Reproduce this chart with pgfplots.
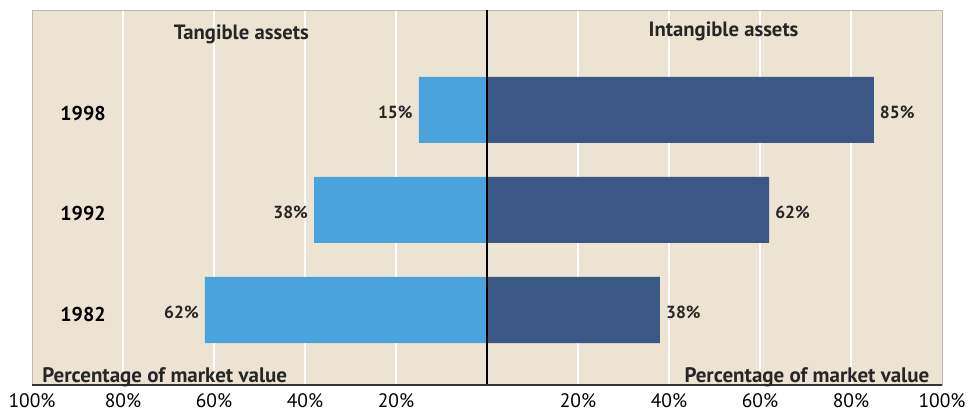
\documentclass[border=0pt]{standalone}
\usepackage{pgfplots}
\pgfplotsset{compat=1.18}
\usepackage{fontspec}
\setmainfont{PT Sans}

\definecolor{panel}{RGB}{237,227,210}
\definecolor{tangible}{RGB}{74,163,220}
\definecolor{intangible}{RGB}{58,87,133}
\definecolor{frame}{RGB}{190,185,178}

\begin{document}
\begin{tikzpicture}
\begin{axis}[
  scale only axis,
  width=910bp, height=375bp,
  xmin=-100, xmax=100, ymin=-0.75, ymax=3,
  axis background/.style={fill=panel},
  axis line style={frame, line width=0.8bp},
  xbar, bar width=66bp,
  xtick={-100,-80,-60,-40,-20,20,40,60,80,100},
  xticklabels={100\%,80\%,60\%,40\%,20\%,20\%,40\%,60\%,80\%,100\%},
  minor xtick={-80,-60,-40,-20,20,40,60,80},
  xminorgrids,
  minor grid style={white, line width=1.8bp},
  major tick length=0pt, minor tick length=0pt,
  ytick={0,1,2}, yticklabels={1982,1992,1998},
  yticklabel style={anchor=center, xshift=51bp, yshift=-4bp,
    font=\bfseries\fontsize{20bp}{24bp}\selectfont},
  xticklabel style={font=\fontsize{19.5bp}{22bp}\selectfont, yshift=-5bp},
  /pgf/number format/assume math mode=true,
  clip=false,
]
% tangible share, drawn to the left of zero
\addplot[fill=tangible, draw=none, bar shift=0pt,
  point meta=explicit symbolic,
  nodes near coords={\pgfplotspointmeta\%},
  nodes near coords align={left},
  every node near coord/.append style={font=\bfseries\fontsize{17.5bp}{20bp}\selectfont,
    text=black!85, inner sep=6bp, yshift=-2bp}]
  coordinates {(-62,0) [62] (-38,1) [38] (-15,2) [15]};
% intangible share, drawn to the right of zero
\addplot[fill=intangible, draw=none, bar shift=0pt,
  point meta=explicit symbolic,
  nodes near coords={\pgfplotspointmeta\%},
  nodes near coords align={right},
  every node near coord/.append style={font=\bfseries\fontsize{17.5bp}{20bp}\selectfont,
    text=black!85, inner sep=6bp, yshift=-2bp}]
  coordinates {(38,0) [38] (62,1) [62] (85,2) [85]};

\draw[black, line width=1.5bp] (axis cs:0,-0.75) -- (axis cs:0,3);
\draw[black!80, line width=1.5bp] (rel axis cs:0,0) -- (rel axis cs:1,0);

\node[font=\bfseries\fontsize{20.7bp}{24bp}\selectfont, text=black!85]
  at (axis cs:-54,2.76) {Tangible assets};
\node[font=\bfseries\fontsize{20.7bp}{24bp}\selectfont, text=black!85]
  at (axis cs:52,2.79) {Intangible assets};
\node[font=\bfseries\fontsize{21bp}{24bp}\selectfont, text=black!85, anchor=west]
  at (axis cs:-98.5,-0.67) {Percentage of market value};
\node[font=\bfseries\fontsize{21bp}{24bp}\selectfont, text=black!85, anchor=east]
  at (axis cs:98,-0.67) {Percentage of market value};
\end{axis}
\pgfresetboundingbox
\path[use as bounding box] ([shift={(-32bp,-28bp)}]current axis.south west)
  rectangle ([shift={(29bp,10bp)}]current axis.north east);
\end{tikzpicture}
\end{document}
